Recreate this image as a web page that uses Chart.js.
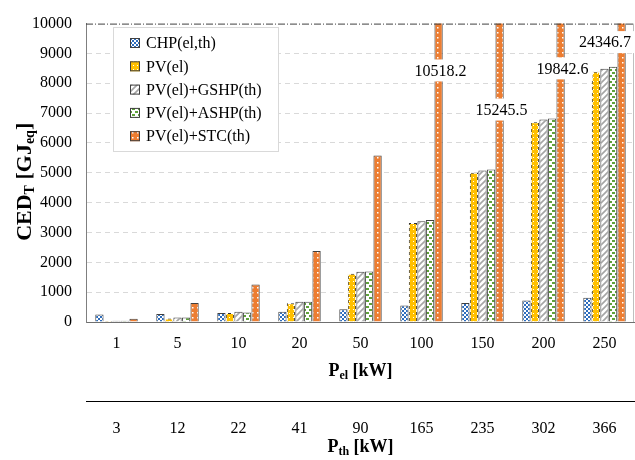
<!DOCTYPE html>
<html>
<head>
<meta charset="utf-8">
<script src="https://cdn.jsdelivr.net/npm/chart.js@4"></script>
<style>
  html, body { margin: 0; padding: 0; background: #fff; }
  #wrap { width: 635px; height: 460px; }
</style>
</head>
<body>
<div id="wrap"><canvas id="grafico"></canvas></div>
<script>
// data
const pel = ["1", "5", "10", "20", "50", "100", "150", "200", "250"];
const pth = ["3", "12", "22", "41", "90", "165", "235", "302", "366"];
const chp = [250, 270, 300, 340, 430, 550, 640, 720, 815];
const pv = [30, 120, 300, 630, 1620, 3320, 5000, 6690, 8390];
const gshp = [40, 150, 340, 680, 1680, 3380, 5075, 6785, 8490];
const ashp = [40, 150, 320, 680, 1690, 3420, 5110, 6820, 8550];
const stc = [110, 640, 1260, 2380, 5580, 10518.2, 15245.5, 19842.6, 24346.7];
const seriesNames = ["CHP(el,th)", "PV(el)", "PV(el)+GSHP(th)", "PV(el)+ASHP(th)", "PV(el)+STC(th)"];

// where the labels of the cut bars sit (axis units)
const cutLabelAt = [null, null, null, null, null, 8430, 7120, 8500, 9380];

const FONT = "'Liberation Serif', serif";
Chart.defaults.font.family = FONT;
Chart.defaults.font.size = 16;
Chart.defaults.color = "#000";

function tile(size, draw) {
    const c = document.createElement("canvas");
    c.width = size; c.height = size;
    const g = c.getContext("2d");
    draw(g);
    return g.createPattern(c, "repeat");
}

const patChp = tile(4, function (g) {
    g.fillStyle = "#fff"; g.fillRect(0, 0, 4, 4);
    g.fillStyle = "#2e6dbd";
    g.fillRect(0, 0, 2, 2); g.fillRect(2, 2, 2, 2);
});
const patPv = tile(4, function (g) {
    g.fillStyle = "#ffc000"; g.fillRect(0, 0, 4, 4);
    g.fillStyle = "#fff"; g.fillRect(1, 1, 1, 1);
});
const patGshp = tile(6, function (g) {
    g.fillStyle = "#fff"; g.fillRect(0, 0, 6, 6);
    g.strokeStyle = "#a5a5a5"; g.lineWidth = 1.6;
    g.beginPath();
    g.moveTo(-1, 7); g.lineTo(7, -1);
    g.moveTo(-4, 4); g.lineTo(4, -4);
    g.moveTo(2, 10); g.lineTo(10, 2);
    g.stroke();
});
const patAshp = tile(6, function (g) {
    g.fillStyle = "#fff"; g.fillRect(0, 0, 6, 6);
    g.fillStyle = "#5fa23a";
    g.fillRect(0, 0, 3, 2); g.fillRect(3, 3, 3, 2);
});
const patStc = tile(5, function (g) {
    g.fillStyle = "#ed7d31"; g.fillRect(0, 0, 5, 5);
    g.fillStyle = "#fff"; g.fillRect(2, 2, 1.5, 1.5);
});
const dashBorder = tile(6, function (g) {
    g.fillStyle = "#303030";
    g.fillRect(0, 0, 3, 3); g.fillRect(3, 3, 3, 3);
});

const fills = [patChp, patPv, patGshp, patAshp, patStc];
const edges = ["#404040", dashBorder, "#404040", "#404040", "#404040"];
const values = [chp, pv, gshp, ashp, stc];

function drawSubText(ctx, parts, x, y, big, small) {
    // parts: [text, isSub]
    let w = 0;
    parts.forEach(function (p) {
        ctx.font = "bold " + (p[1] ? small : big) + "px " + FONT;
        w += ctx.measureText(p[0]).width;
    });
    let cx = x - w / 2;
    parts.forEach(function (p) {
        ctx.font = "bold " + (p[1] ? small : big) + "px " + FONT;
        ctx.fillText(p[0], cx, p[1] ? y + 5 : y);
        cx += ctx.measureText(p[0]).width;
    });
}

const decor = {
    id: "decor",
    afterDatasetsDraw: function (chart) {
        const ctx = chart.ctx;
        const a = chart.chartArea;
        const ys = chart.scales.y;

        // top dash-dot frame line and right edge
        ctx.save();
        ctx.strokeStyle = "#404040";
        ctx.lineWidth = 1;
        ctx.setLineDash([7, 2, 1, 2]);
        ctx.beginPath();
        ctx.moveTo(a.left, a.top + 0.5);
        ctx.lineTo(a.right, a.top + 0.5);
        ctx.stroke();
        ctx.setLineDash([]);
        ctx.strokeStyle = "#bfbfbf";
        ctx.beginPath();
        ctx.moveTo(a.right - 1.5, a.top);
        ctx.lineTo(a.right - 1.5, a.bottom);
        ctx.stroke();
        ctx.restore();

        // values of the bars that leave the axis
        const meta = chart.getDatasetMeta(4);
        ctx.save();
        ctx.font = "16px " + FONT;
        ctx.textBaseline = "middle";
        ctx.textAlign = "center";
        stc.forEach(function (v, i) {
            if (v <= ys.max || cutLabelAt[i] === null) return;
            const txt = String(v);
            const w = ctx.measureText(txt).width + 8;
            let x = meta.data[i].x + 2;
            if (x + w / 2 > chart.width) x = chart.width - w / 2;
            const y = ys.getPixelForValue(cutLabelAt[i]);
            ctx.fillStyle = "#fff";
            ctx.fillRect(x - w / 2, y - 11, w, 22);
            ctx.fillStyle = "#000";
            ctx.fillText(txt, x, y + 1);
        });
        ctx.restore();
    },
    afterDraw: function (chart) {
        const ctx = chart.ctx;
        const a = chart.chartArea;
        const cx = (a.left + a.right) / 2;

        // legend
        ctx.save();
        ctx.fillStyle = "#fff";
        ctx.strokeStyle = "#d9d9d9";
        ctx.lineWidth = 1;
        ctx.fillRect(113.5, 27.5, 165, 124);
        ctx.strokeRect(113.5, 27.5, 165, 124);
        ctx.font = "16px " + FONT;
        ctx.textBaseline = "middle";
        seriesNames.forEach(function (name, i) {
            const y = 43 + i * 23.3;
            ctx.fillStyle = fills[i];
            ctx.fillRect(130, y - 5, 10, 10);
            ctx.strokeStyle = "#404040";
            ctx.strokeRect(130.5, y - 4.5, 9, 9);
            ctx.fillStyle = "#000";
            ctx.fillText(name, 146, y + 1);
        });
        ctx.restore();

        // axis titles with subscripts
        ctx.save();
        ctx.fillStyle = "#000";
        ctx.textBaseline = "middle";
        drawSubText(ctx, [["P", false], ["el", true], [" [kW]", false]], cx, 371, 18, 12);
        drawSubText(ctx, [["P", false], ["th", true], [" [kW]", false]], cx, 447, 18, 12);
        ctx.translate(25, (a.top + a.bottom) / 2 + 9);
        ctx.rotate(-Math.PI / 2);
        drawSubText(ctx, [["CED", false], ["T", true], [" [GJ", false], ["eq", true], ["]", false]], 0, 0, 22, 14);
        ctx.restore();
    }
};

document.addEventListener("DOMContentLoaded", function () {

    new Chart(document.getElementById("grafico"), {
        type: "bar",
        data: {
            labels: pel,
            datasets: values.map(function (d, i) {
                return {
                    label: seriesNames[i],
                    data: d,
                    backgroundColor: fills[i],
                    borderColor: edges[i],
                    borderWidth: 1,
                    categoryPercentage: 0.7,
                    barPercentage: 0.97
                };
            })
        },
        options: {
            responsive: true,
            maintainAspectRatio: false,
            animation: false,
            layout: { padding: { top: 16, right: 0, left: 0, bottom: 0 } },
            plugins: {
                legend: { display: false },
                tooltip: { enabled: false }
            },
            scales: {
                x: {
                    grid: { display: false, drawTicks: false },
                    border: { display: true, color: "#6f6f6f", width: 1 },
                    ticks: { color: "#000", padding: 12, font: { family: FONT, size: 16 } },
                    afterFit: function (s) { s.height = 79; }
                },
                x2: {
                    type: "category",
                    position: "bottom",
                    labels: pth,
                    offset: true,
                    grid: { display: false, drawTicks: false },
                    border: { display: true, color: "#000", width: 1 },
                    ticks: { color: "#000", padding: 18, font: { family: FONT, size: 16 } },
                    afterFit: function (s) { s.height = 59; }
                },
                y: {
                    min: 0,
                    max: 10000,
                    ticks: {
                        stepSize: 1000,
                        color: "#000",
                        padding: 14,
                        font: { family: FONT, size: 16 },
                        callback: function (v) { return String(v); }
                    },
                    grid: {
                        drawTicks: false,
                        color: function (c) { return c.tick && c.tick.value === 10000 ? "rgba(0,0,0,0)" : "#d9d9d9"; }
                    },
                    border: { display: true, color: "#7f7f7f", width: 1, dash: [5, 4] },
                    afterFit: function (s) { s.width = 86; }
                }
            }
        },
        plugins: [decor]
    });

});
</script>
</body>
</html>
